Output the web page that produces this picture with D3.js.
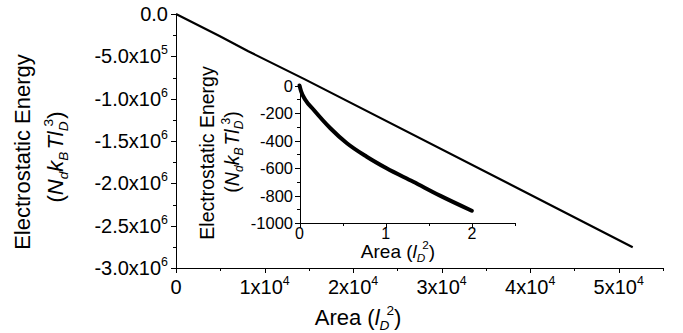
<!DOCTYPE html>
<html>
<head>
  <meta charset="UTF-8"/>
  <title>Electrostatic Energy vs Area</title>
  <script src="https://d3js.org/d3.v7.min.js"></script>
  <style>
    body { margin: 0; background: #fff; }
    svg { display: block; font-family: 'Liberation Sans', Arial, sans-serif; }
    .axis path, .axis line { stroke: #000; stroke-width: 1; shape-rendering: crispEdges; }
  </style>
</head>
<body>
<svg width="683" height="333"></svg>
<script>
// main plot data (area in l_D^2, energy in N_d k_B T l_D^3)
var mainArea   = [0, 4966, 8160, 14560, 51580];
var mainEnergy = [0, -262000, -440000, -772000, -2754000];

// inset data
var insetArea   = [0, 0.02, 0.069, 0.166, 0.358, 0.55, 0.78, 1.01, 1.32, 1.63, 2.0];
var insetEnergy = [0, -45, -105, -178, -311, -420, -518, -602, -700, -801, -911];

// tick values / labels  [mantissa, exponent]
var mainXTicks  = [0, 10000, 20000, 30000, 40000, 50000];
var mainXLabels = [["0", ""], ["1x10", "4"], ["2x10", "4"], ["3x10", "4"], ["4x10", "4"], ["5x10", "4"]];
var mainYTicks  = [0, -500000, -1000000, -1500000, -2000000, -2500000, -3000000];
var mainYLabels = [["0.0", ""], ["-5.0x10", "5"], ["-1.0x10", "6"], ["-1.5x10", "6"], ["-2.0x10", "6"], ["-2.5x10", "6"], ["-3.0x10", "6"]];
var insetXTicks  = [0, 1, 2];
var insetXLabels = ["0", "1", "2"];
var insetYTicks  = [0, -200, -400, -600, -800, -1000];
var insetYLabels = ["0", "-200", "-400", "-600", "-800", "-1000"];

var svg = d3.select("svg");

var x = d3.scaleLinear().domain([0, 55000]).range([176, 663]);
var y = d3.scaleLinear().domain([-3000000, 0]).range([268, 14]);

var ix = d3.scaleLinear().domain([0, 2.5]).range([299.5, 515]);
var iy = d3.scaleLinear().domain([-1000, 0]).range([223, 85.5]);

// write text made of parts: {t, it, sub, sup, dx}
function rich(text, parts, size) {
  var shift = 0;
  parts.forEach(function(p) {
    var target = p.sub ? 0.22 * size : (p.sup ? -0.45 * size : 0);
    var ts = text.append("tspan").text(p.t)
      .attr("dy", target - shift)
      .attr("font-size", (p.sub || p.sup) ? size * 0.62 : size);
    if (p.it) ts.attr("font-style", "italic");
    if (p.dx) ts.attr("dx", p.dx);
    shift = target;
  });
}

// ---------- main axes ----------
var gx = svg.append("g").attr("class", "axis")
  .attr("transform", "translate(0," + y(-3000000) + ")")
  .call(d3.axisBottom(x).tickValues(d3.range(0, 55001, 5000)).tickSizeOuter(0)
    .tickSize(3).tickFormat(""));
gx.selectAll(".tick line").filter(function(d) { return d % 10000 === 0; }).attr("y2", 5);

mainXTicks.forEach(function(v, i) {
  var t = svg.append("text").attr("x", x(v)).attr("y", 294)
    .attr("text-anchor", "middle").attr("font-size", 20);
  var lab = mainXLabels[i];
  var parts = [{t: lab[0]}];
  if (lab[1]) parts.push({t: lab[1], sup: true});
  rich(t, parts, 20);
});

var gy = svg.append("g").attr("class", "axis")
  .attr("transform", "translate(" + x(0) + ",0)")
  .call(d3.axisLeft(y).tickValues(d3.range(-3000000, 1, 250000)).tickSizeOuter(0)
    .tickSize(3).tickFormat(""));
gy.selectAll(".tick line").filter(function(d) { return d % 500000 === 0; }).attr("x2", -5);

mainYTicks.forEach(function(v, i) {
  var t = svg.append("text").attr("x", 168).attr("y", y(v) + 7)
    .attr("text-anchor", "end").attr("font-size", 20);
  var lab = mainYLabels[i];
  var parts = [{t: lab[0]}];
  if (lab[1]) parts.push({t: lab[1], sup: true});
  rich(t, parts, 20);
});

// main line
svg.append("path")
  .datum(d3.zip(mainArea, mainEnergy))
  .attr("fill", "none").attr("stroke", "#000").attr("stroke-width", 2.2)
  .attr("stroke-linejoin", "round")
  .attr("d", d3.line().x(function(d) { return x(d[0]); }).y(function(d) { return y(d[1]); }));

// main titles
var yt1 = svg.append("text").attr("transform", "translate(30,152) rotate(-90)")
  .attr("text-anchor", "middle").attr("font-size", 22);
rich(yt1, [{t: "Electrostatic Energy"}], 22);
var yt2 = svg.append("text").attr("transform", "translate(63,157) rotate(-90)")
  .attr("text-anchor", "middle").attr("font-size", 22);
rich(yt2, [{t: "("}, {t: "N", it: true}, {t: "d", it: true, sub: true}, {t: "k", it: true},
  {t: "B", it: true, sub: true}, {t: "T", it: true, dx: 2}, {t: "l", it: true}, {t: "D", it: true, sub: true},
  {t: "3", sup: true, dx: -5}, {t: ")"}], 22);

var xt = svg.append("text").attr("x", 358).attr("y", 325)
  .attr("text-anchor", "middle").attr("font-size", 22);
rich(xt, [{t: "Area ("}, {t: "l", it: true}, {t: "D", it: true, sub: true},
  {t: "2", sup: true, dx: -3}, {t: ")"}], 22);

// ---------- inset ----------
var igx = svg.append("g").attr("class", "axis")
  .attr("transform", "translate(0," + iy(-1000) + ")")
  .call(d3.axisBottom(ix).tickValues([0, 0.5, 1, 1.5, 2, 2.5]).tickSizeOuter(0)
    .tickSize(3).tickFormat(""));
igx.selectAll(".tick line").filter(function(d) { return d % 1 === 0; }).attr("y2", 5);

insetXTicks.forEach(function(v, i) {
  svg.append("text").attr("x", ix(v)).attr("y", 239)
    .attr("text-anchor", "middle").attr("font-size", 16).text(insetXLabels[i]);
});

var igy = svg.append("g").attr("class", "axis")
  .attr("transform", "translate(" + ix(0) + ",0)")
  .call(d3.axisLeft(iy).tickValues(d3.range(-1000, 1, 100)).tickSizeOuter(0)
    .tickSize(3).tickFormat(""));
igy.selectAll(".tick line").filter(function(d) { return d % 200 === 0; }).attr("x2", -5);

insetYTicks.forEach(function(v, i) {
  svg.append("text").attr("x", 293).attr("y", iy(v) + 6)
    .attr("text-anchor", "end").attr("font-size", 16.5).text(insetYLabels[i]);
});

svg.append("path")
  .datum(d3.zip(insetArea, insetEnergy))
  .attr("fill", "none").attr("stroke", "#000").attr("stroke-width", 4)
  .attr("stroke-linejoin", "round").attr("stroke-linecap", "round")
  .attr("d", d3.line().curve(d3.curveMonotoneX)
    .x(function(d) { return ix(d[0]); }).y(function(d) { return iy(d[1]); }));

var it1 = svg.append("text").attr("transform", "translate(214,153) rotate(-90)")
  .attr("text-anchor", "middle").attr("font-size", 19.5);
rich(it1, [{t: "Electrostatic Energy"}], 19.5);
var it2 = svg.append("text").attr("transform", "translate(239,152) rotate(-90)")
  .attr("text-anchor", "middle").attr("font-size", 19.5);
rich(it2, [{t: "("}, {t: "N", it: true}, {t: "d", it: true, sub: true}, {t: "k", it: true},
  {t: "B", it: true, sub: true}, {t: "T", it: true, dx: 2}, {t: "l", it: true}, {t: "D", it: true, sub: true},
  {t: "3", sup: true, dx: -4}, {t: ")"}], 19.5);

var ixt = svg.append("text").attr("x", 398).attr("y", 258)
  .attr("text-anchor", "middle").attr("font-size", 19);
rich(ixt, [{t: "Area ("}, {t: "l", it: true}, {t: "D", it: true, sub: true},
  {t: "2", sup: true, dx: -3}, {t: ")"}], 19);
</script>
</body>
</html>
